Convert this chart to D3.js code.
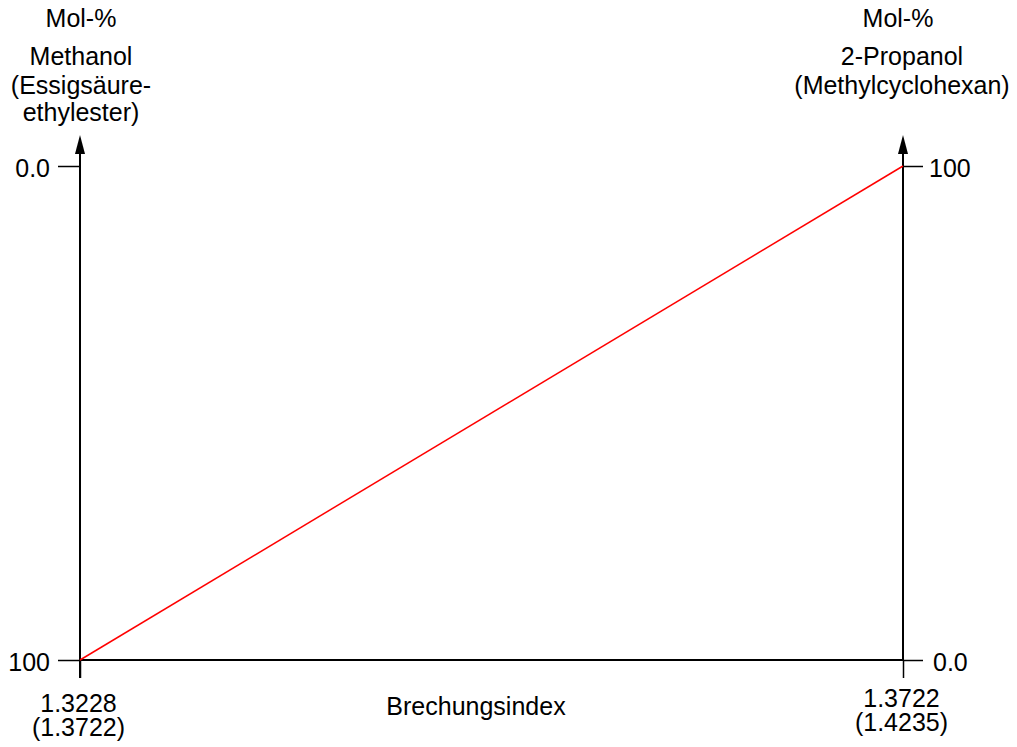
<!DOCTYPE html>
<html>
<head>
<meta charset="utf-8">
<script src="https://cdn.jsdelivr.net/npm/d3@7"></script>
<style>
  body { margin: 0; background: #fff; }
  svg { display: block; font-family: "Liberation Sans", Arial, sans-serif; }
</style>
</head>
<body>
<svg id="chart" width="1017" height="747"></svg>
<script>
// ---- data ----
const refractiveIndex = [1.3228, 1.3722];            // bottom axis values
const refractiveIndexAlt = ["(1.3722)", "(1.4235)"];  // bracketed system
const percentTicks = [0, 100];
const leftTickLabels = ["0.0", "100"];               // for 0, 100 on left axis
const rightTickLabels = ["0.0", "100"];              // for 0, 100 on right axis
const leftTitle = ["Mol-%", "Methanol", "(Essigsäure-", "ethylester)"];
const rightTitle = ["Mol-%", "2-Propanol", "(Methylcyclohexan)"];
const xTitle = "Brechungsindex";
// calibration line: 2-Propanol mol-% against refractive index
const lineIndex = [1.3228, 1.3722];
const linePercent = [0, 100];

// ---- layout ----
const svg = d3.select("#chart");
const xLeft = 80, xRight = 903, yTop = 166, yBottom = 660;
const fs = 25;

const x = d3.scaleLinear().domain([refractiveIndex[0], refractiveIndex[1]]).range([xLeft, xRight]);
const yL = d3.scaleLinear().domain([0, 100]).range([yTop, yBottom]);   // Methanol: 0 at top
const yR = d3.scaleLinear().domain([0, 100]).range([yBottom, yTop]);   // 2-Propanol: 0 at bottom

// arrow marker
svg.append("defs").append("marker")
  .attr("id", "arrow").attr("viewBox", "0 0 10 18")
  .attr("refX", 5).attr("refY", 0)
  .attr("markerWidth", 10).attr("markerHeight", 18)
  .attr("markerUnits", "userSpaceOnUse").attr("orient", "0")
  .append("path").attr("d", "M0,18 L5,0 L10,18 Z").attr("fill", "#000");

// left axis
const leftAxis = d3.axisLeft(yL).tickValues(percentTicks).tickSize(22).tickPadding(8)
  .tickFormat((d, i) => leftTickLabels[i]);
const gL = svg.append("g").attr("transform", `translate(${xLeft},0)`).call(leftAxis);

// right axis
const rightAxis = d3.axisRight(yR).tickValues(percentTicks).tickSize(20).tickPadding(6)
  .tickFormat((d, i) => rightTickLabels[i]);
const gR = svg.append("g").attr("transform", `translate(${xRight},0)`).call(rightAxis);

// bottom axis
const bottomAxis = d3.axisBottom(x).tickValues(refractiveIndex).tickSize(18).tickFormat("");
const gB = svg.append("g").attr("transform", `translate(0,${yBottom})`).call(bottomAxis);

[gL, gR, gB].forEach(g => {
  g.select(".domain").remove();
  g.selectAll(".tick line").attr("stroke", "#000").attr("stroke-width", 1.5);
  g.selectAll(".tick text").attr("font-size", fs).attr("font-family", "Liberation Sans, Arial, sans-serif")
    .attr("fill", "#000");
});
gL.selectAll(".tick text").attr("dy", "0.42em");
gR.selectAll(".tick text").attr("dy", "0.42em");
gR.selectAll(".tick").filter(d => d === 0).select("text").attr("x", 30);

// bottom tick labels (two lines)
gB.selectAll(".tick").each(function(d, i) {
  const t = d3.select(this).append("text")
    .attr("fill", "#000").attr("font-size", fs).attr("text-anchor", "middle");
  const off = i === 0 ? 0 : -5;
  t.append("tspan").attr("x", -2).attr("y", 52 + off).text(d.toFixed(4));
  t.append("tspan").attr("x", -2).attr("y", 76 + off).text(refractiveIndexAlt[i]);
});

// axis lines
svg.append("line").attr("x1", xLeft).attr("x2", xLeft).attr("y1", yBottom + 18).attr("y2", 150)
  .attr("stroke", "#000").attr("stroke-width", 2);
svg.append("line").attr("x1", xRight).attr("x2", xRight).attr("y1", yBottom).attr("y2", 150)
  .attr("stroke", "#000").attr("stroke-width", 2);
svg.append("line").attr("x1", xLeft).attr("x2", xRight).attr("y1", yBottom).attr("y2", yBottom)
  .attr("stroke", "#000").attr("stroke-width", 2);
// arrowheads
[xLeft, xRight].forEach(xx => {
  svg.append("path").attr("d", `M${xx},135 L${xx - 5},154 L${xx + 5},154 Z`).attr("fill", "#000");
});

// calibration line
const pts = lineIndex.map((v, i) => [v, linePercent[i]]);
svg.append("path").datum(pts)
  .attr("d", d3.line().x(d => x(d[0])).y(d => yR(d[1])))
  .attr("fill", "none").attr("stroke", "#ff0000").attr("stroke-width", 1.5);

// titles
const leftY = [27, 65, 94, 121];
leftTitle.forEach((s, i) => {
  svg.append("text").attr("x", xLeft + 1).attr("y", leftY[i]).attr("text-anchor", "middle")
    .attr("font-size", fs).attr("fill", "#000").text(s);
});
const rightY = [27, 65, 94];
rightTitle.forEach((s, i) => {
  svg.append("text").attr("x", i === 0 ? xRight - 5 : xRight - 1).attr("y", rightY[i]).attr("text-anchor", "middle")
    .attr("font-size", fs).attr("fill", "#000").text(s);
});
svg.append("text").attr("x", 476).attr("y", 715).attr("text-anchor", "middle")
  .attr("font-size", fs).attr("fill", "#000").text(xTitle);
</script>
</body>
</html>
